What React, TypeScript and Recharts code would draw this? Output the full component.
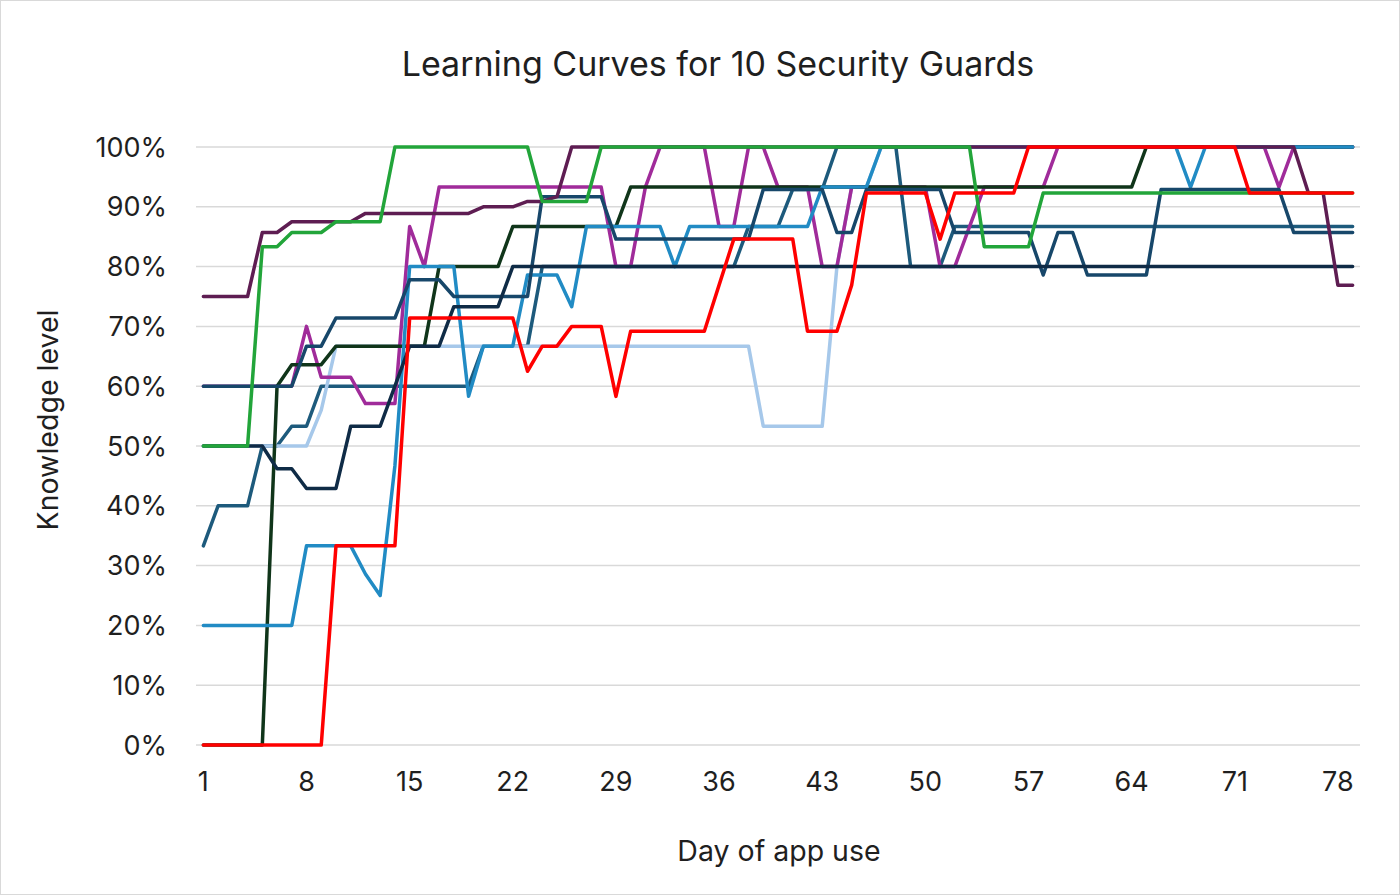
import { CartesianGrid, Line, LineChart, XAxis, YAxis } from "recharts";

// day of app use, one category per day
const days = Array.from({ length: 79 }, (_, i) => i + 1);

const xTicks = [1, 8, 15, 22, 29, 36, 43, 50, 57, 64, 71, 78];
const yTicks = [0, 10, 20, 30, 40, 50, 60, 70, 80, 90, 100];

// knowledge level per guard (%)
const guardPlum = [
  75, 75, 75, 75, 85.7, 85.7, 87.5, 87.5, 87.5, 87.5,
  87.5, 88.9, 88.9, 88.9, 88.9, 88.9, 88.9, 88.9, 88.9, 90,
  90, 90, 90.9, 90.9, 91.7, 100, 100, 100, 100, 100,
  100, 100, 100, 100, 100, 100, 100, 100, 100, 100,
  100, 100, 100, 100, 100, 100, 100, 100, 100, 100,
  100, 100, 100, 100, 100, 100, 100, 100, 100, 100,
  100, 100, 100, 100, 100, 100, 100, 100, 100, 100,
  100, 100, 100, 100, 100, 92.3, 92.3, 76.9, 76.9,
];

const guardGreen = [
  50, 50, 50, 50, 83.3, 83.3, 85.7, 85.7, 85.7, 87.5,
  87.5, 87.5, 87.5, 100, 100, 100, 100, 100, 100, 100,
  100, 100, 100, 90.9, 90.9, 90.9, 90.9, 100, 100, 100,
  100, 100, 100, 100, 100, 100, 100, 100, 100, 100,
  100, 100, 100, 100, 100, 100, 100, 100, 100, 100,
  100, 100, 100, 83.3, 83.3, 83.3, 83.3, 92.3, 92.3, 92.3,
  92.3, 92.3, 92.3, 92.3, 92.3, 92.3, 92.3, 92.3, 92.3, 92.3,
  92.3, 92.3, 92.3, 92.3, 92.3, 92.3, 92.3, 92.3, 92.3,
];

const guardMagenta = [
  60, 60, 60, 60, 60, 60, 60, 70, 61.5, 61.5,
  61.5, 57.1, 57.1, 57.1, 86.7, 80, 93.3, 93.3, 93.3, 93.3,
  93.3, 93.3, 93.3, 93.3, 93.3, 93.3, 93.3, 93.3, 80, 80,
  93.3, 100, 100, 100, 100, 86.7, 86.7, 100, 100, 93.3,
  93.3, 93.3, 80, 80, 93.3, 93.3, 93.3, 93.3, 93.3, 93.3,
  80, 80, 86.7, 93.3, 93.3, 93.3, 93.3, 93.3, 100, 100,
  100, 100, 100, 100, 100, 100, 100, 100, 100, 100,
  100, 100, 100, 93.3, 100, 100, 100, 100, 100,
];

const guardMidBlue = [
  20, 20, 20, 20, 20, 20, 20, 33.3, 33.3, 33.3,
  33.3, 28.6, 25, 46.7, 80, 80, 80, 80, 58.3, 66.7,
  66.7, 66.7, 78.6, 78.6, 78.6, 73.3, 86.7, 86.7, 86.7, 86.7,
  86.7, 86.7, 80, 86.7, 86.7, 86.7, 86.7, 86.7, 86.7, 86.7,
  86.7, 86.7, 93.3, 93.3, 93.3, 93.3, 100, 100, 100, 100,
  100, 100, 100, 100, 100, 100, 100, 100, 100, 100,
  100, 100, 100, 100, 100, 100, 100, 93.3, 100, 100,
  100, 100, 100, 100, 100, 100, 100, 100, 100,
];

const guardLightBlue = [
  50, 50, 50, 50, 50, 50, 50, 50, 56, 66.7,
  66.7, 66.7, 66.7, 66.7, 66.7, 66.7, 66.7, 66.7, 66.7, 66.7,
  66.7, 66.7, 66.7, 66.7, 66.7, 66.7, 66.7, 66.7, 66.7, 66.7,
  66.7, 66.7, 66.7, 66.7, 66.7, 66.7, 66.7, 66.7, 53.3, 53.3,
  53.3, 53.3, 53.3, 80, 93.3, 93.3, 100, 100, 100, 100,
  100, 100, 100, 100, 100, 100, 100, 100, 100, 100,
  100, 100, 100, 100, 100, 100, 100, 100, 100, 100,
  100, 100, 100, 100, 100, 100, 100, 100, 100,
];

const guardDarkGreen = [
  0, 0, 0, 0, 0, 60, 63.6, 63.6, 63.6, 66.7,
  66.7, 66.7, 66.7, 66.7, 66.7, 66.7, 80, 80, 80, 80,
  80, 86.7, 86.7, 86.7, 86.7, 86.7, 86.7, 86.7, 86.7, 93.3,
  93.3, 93.3, 93.3, 93.3, 93.3, 93.3, 93.3, 93.3, 93.3, 93.3,
  93.3, 93.3, 93.3, 93.3, 93.3, 93.3, 93.3, 93.3, 93.3, 93.3,
  93.3, 93.3, 93.3, 93.3, 93.3, 93.3, 93.3, 93.3, 93.3, 93.3,
  93.3, 93.3, 93.3, 93.3, 100, 100, 100, 100, 100, 100,
  100, 100, 100, 100, 100, 100, 100, 100, 100,
];

const guardRed = [
  0, 0, 0, 0, 0, 0, 0, 0, 0, 33.3,
  33.3, 33.3, 33.3, 33.3, 71.4, 71.4, 71.4, 71.4, 71.4, 71.4,
  71.4, 71.4, 62.5, 66.7, 66.7, 70, 70, 70, 58.3, 69.2,
  69.2, 69.2, 69.2, 69.2, 69.2, 76.9, 84.6, 84.6, 84.6, 84.6,
  84.6, 69.2, 69.2, 69.2, 76.9, 92.3, 92.3, 92.3, 92.3, 92.3,
  84.6, 92.3, 92.3, 92.3, 92.3, 92.3, 100, 100, 100, 100,
  100, 100, 100, 100, 100, 100, 100, 100, 100, 100,
  100, 92.3, 92.3, 92.3, 92.3, 92.3, 92.3, 92.3, 92.3,
];

const guardNavy = [
  50, 50, 50, 50, 50, 46.2, 46.2, 42.9, 42.9, 42.9,
  53.3, 53.3, 53.3, 60, 66.7, 66.7, 66.7, 73.3, 73.3, 73.3,
  73.3, 80, 80, 80, 80, 80, 80, 80, 80, 80,
  80, 80, 80, 80, 80, 80, 80, 80, 80, 80,
  80, 80, 80, 80, 80, 80, 80, 80, 80, 80,
  80, 80, 80, 80, 80, 80, 80, 80, 80, 80,
  80, 80, 80, 80, 80, 80, 80, 80, 80, 80,
  80, 80, 80, 80, 80, 80, 80, 80, 80,
];

const guardTealA = [
  60, 60, 60, 60, 60, 60, 60, 66.7, 66.7, 71.4,
  71.4, 71.4, 71.4, 71.4, 77.8, 77.8, 77.8, 75, 75, 75,
  75, 75, 75, 91.7, 91.7, 91.7, 91.7, 91.7, 84.6, 84.6,
  84.6, 84.6, 84.6, 84.6, 84.6, 84.6, 84.6, 84.6, 92.9, 92.9,
  92.9, 92.9, 92.9, 85.7, 85.7, 92.9, 92.9, 92.9, 92.9, 92.9,
  92.9, 85.7, 85.7, 85.7, 85.7, 85.7, 85.7, 78.6, 85.7, 85.7,
  78.6, 78.6, 78.6, 78.6, 78.6, 92.9, 92.9, 92.9, 92.9, 92.9,
  92.9, 92.9, 92.9, 92.9, 85.7, 85.7, 85.7, 85.7, 85.7,
];

const guardTealB = [
  33.3, 40, 40, 40, 50, 50, 53.3, 53.3, 60, 60,
  60, 60, 60, 60, 60, 60, 60, 60, 60, 66.7,
  66.7, 66.7, 66.7, 80, 80, 80, 80, 80, 80, 80,
  80, 80, 80, 80, 80, 80, 80, 86.7, 86.7, 86.7,
  92.9, 92.9, 92.9, 100, 100, 100, 100, 100, 80, 80,
  80, 86.7, 86.7, 86.7, 86.7, 86.7, 86.7, 86.7, 86.7, 86.7,
  86.7, 86.7, 86.7, 86.7, 86.7, 86.7, 86.7, 86.7, 86.7, 86.7,
  86.7, 86.7, 86.7, 86.7, 86.7, 86.7, 86.7, 86.7, 86.7,
];

// drawing order: first is bottom
const series = [
  { key: "tealB", values: guardTealB, color: "#1d5a7c" },
  { key: "lightBlue", values: guardLightBlue, color: "#a6c8ea" },
  { key: "magenta", values: guardMagenta, color: "#a02b9a" },
  { key: "darkGreen", values: guardDarkGreen, color: "#10351a" },
  { key: "midBlue", values: guardMidBlue, color: "#218bc4" },
  { key: "tealA", values: guardTealA, color: "#17476a" },
  { key: "navy", values: guardNavy, color: "#0f2b46" },
  { key: "plum", values: guardPlum, color: "#5e1d52" },
  { key: "green", values: guardGreen, color: "#22a53a" },
  { key: "red", values: guardRed, color: "#ff0000" },
];

const data = days.map((day, i) => {
  const row: Record<string, number> = { day };
  series.forEach((s) => {
    row[s.key] = s.values[i];
  });
  return row;
});

const FONT = "Inter, 'Noto Sans', sans-serif";
const TEXT = "#1f1f1f";

export default function App() {
  return (
    <div
      style={{
        position: "absolute",
        left: 0,
        top: 0,
        width: 1400,
        height: 895,
        background: "#fff",
        boxSizing: "border-box",
        border: "1px solid #d9d9d9",
        fontFamily: FONT,
      }}
    >
      <div
        style={{
          position: "absolute",
          left: 717,
          top: 62,
          transform: "translate(-50%, -50%)",
          whiteSpace: "nowrap",
          fontSize: 34,
          color: TEXT,
        }}
      >
        Learning Curves for 10 Security Guards
      </div>
      <div
        style={{
          position: "absolute",
          left: 46,
          top: 419,
          transform: "translate(-50%, -50%) rotate(-90deg)",
          whiteSpace: "nowrap",
          fontSize: 28.5,
          color: TEXT,
        }}
      >
        Knowledge level
      </div>
      <div
        style={{
          position: "absolute",
          left: 778,
          top: 849,
          transform: "translate(-50%, -50%)",
          whiteSpace: "nowrap",
          fontSize: 28.5,
          color: TEXT,
        }}
      >
        Day of app use
      </div>
      <div style={{ position: "absolute", left: -1, top: -1 }}>
        <LineChart width={1400} height={895} data={data} margin={{ top: 147, right: 40, bottom: 90, left: 0 }}>
          <CartesianGrid vertical={false} stroke="#d9d9d9" strokeWidth={1.5} />
          <XAxis
            dataKey="day"
            type="number"
            domain={[0.5, 79.5]}
            ticks={xTicks}
            axisLine={false}
            tickLine={false}
            tickSize={0}
            tickMargin={27}
            height={60}
            tick={{ fontSize: 27, fill: TEXT, fontFamily: FONT }}
          />
          <YAxis
            type="number"
            domain={[0, 100]}
            ticks={yTicks}
            width={196}
            axisLine={false}
            tickLine={false}
            tickSize={0}
            tickMargin={29}
            tickFormatter={(v) => `${v}%`}
            tick={{ fontSize: 27, fill: TEXT, fontFamily: FONT }}
          />
          {series.map((s) => (
            <Line
              key={s.key}
              type="linear"
              dataKey={s.key}
              stroke={s.color}
              strokeWidth={3.5}
              strokeLinejoin="round"
              strokeLinecap="round"
              dot={false}
              activeDot={false}
              isAnimationActive={false}
            />
          ))}
        </LineChart>
      </div>
    </div>
  );
}
